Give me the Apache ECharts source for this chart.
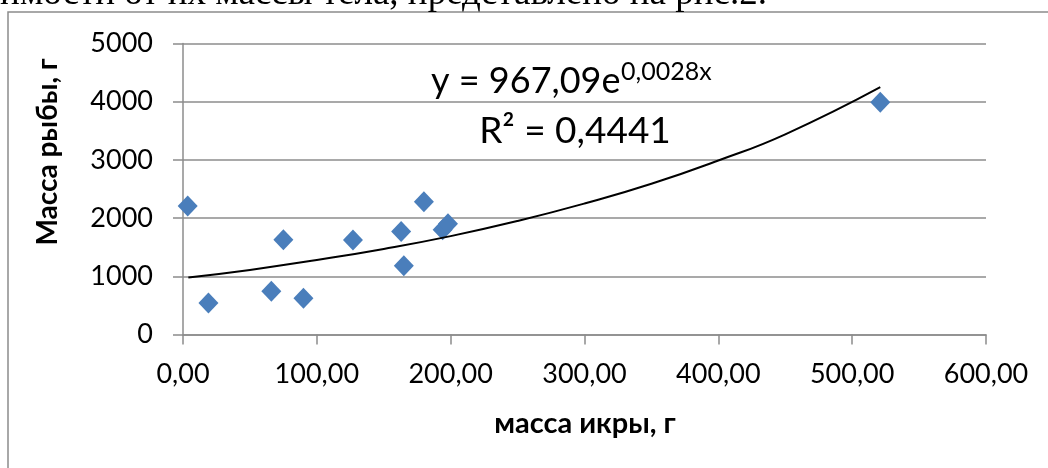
<!DOCTYPE html>
<html>
<head>
<meta charset="utf-8">
<script src="https://cdn.jsdelivr.net/npm/echarts@6/dist/echarts.min.js"></script>
<style>
  html, body { margin: 0; padding: 0; background: #fff; }
  #chart { width: 1048px; height: 468px; }
</style>
</head>
<body>
<div id="chart"></div>
<script>
/* масса икры vs масса рыбы, экспоненциальный тренд */

// масса икры, г
const roeMass = [3.5, 19, 66, 75, 90, 127, 163, 165, 180, 194, 198, 521];
// масса рыбы, г
const fishMass = [2210, 540, 745, 1630, 625, 1625, 1770, 1180, 2280, 1800, 1905, 3990];

// линия тренда
const trendX = [4, 50, 100, 150, 200, 250, 300, 350, 400, 450, 521];
const trendY = [980, 1110, 1280, 1470, 1690, 1950, 2250, 2590, 2990, 3440, 4250];

const yTicks = [0, 1000, 2000, 3000, 4000, 5000];
const xTicks = [0, 100, 200, 300, 400, 500, 600];

const labelFont = "Lato, 'Open Sans', sans-serif";
const gridGray = '#8c8c8c';

const chart = echarts.init(document.getElementById('chart'));

chart.setOption({
    animation: false,
    backgroundColor: '#fff',
    grid: { left: 183, right: 62, top: 43.5, bottom: 133.5 },
    xAxis: {
        type: 'value',
        min: xTicks[0], max: xTicks[xTicks.length - 1], interval: 100,
        axisLine: { show: true, onZero: false, lineStyle: { color: gridGray, width: 1.5 } },
        axisTick: { show: true, length: 10, lineStyle: { color: gridGray, width: 1.5 } },
        splitLine: { show: false },
        axisLabel: {
            margin: 26,
            fontFamily: labelFont, fontSize: 27, color: '#000',
            formatter: v => v.toFixed(2).replace('.', ','),
        },
    },
    yAxis: {
        type: 'value',
        min: yTicks[0], max: yTicks[yTicks.length - 1], interval: 1000,
        axisLine: { show: true, lineStyle: { color: gridGray, width: 1.5 } },
        axisTick: { show: true, length: 10, lineStyle: { color: gridGray, width: 1.5 } },
        splitLine: { show: true, lineStyle: { color: gridGray, width: 1.5 } },
        axisLabel: {
            margin: 30,
            fontFamily: labelFont, fontSize: 27, color: '#000',
            formatter: v => String(v),
        },
    },
    series: [
        {
            type: 'scatter',
            data: roeMass.map((x, i) => [x, fishMass[i]]),
            symbol: 'diamond',
            symbolSize: [20, 21],
            itemStyle: { color: '#4a7ebb', opacity: 1 },
            z: 2,
        },
        {
            type: 'line',
            data: trendX.map((x, i) => [x, trendY[i]]),
            smooth: true,
            showSymbol: false,
            lineStyle: { color: '#000', width: 2 },
            z: 3,
        },
    ],
    graphic: [
        {
            type: 'rect',
            shape: { x: 8, y: 12, width: 1200, height: 600 },
            style: { fill: 'none', stroke: '#8c8c8c', lineWidth: 1.5 },
            silent: true,
        },
        {
            type: 'text',
            x: 767, y: -6,
            style: {
                text: 'зависимости от их массы тела, представлено на рис.2.',
                fontFamily: "'Liberation Serif', 'DejaVu Serif', serif",
                fontSize: 37, fill: '#000',
                align: 'right', verticalAlign: 'middle',
            },
        },
        {
            type: 'text',
            x: 431, y: 81,
            style: {
                text: 'y = 967,09e',
                fontFamily: labelFont, fontSize: 36, fill: '#000',
                align: 'left', verticalAlign: 'middle',
            },
        },
        {
            type: 'text',
            x: 621, y: 72,
            style: {
                text: '0,0028x',
                fontFamily: labelFont, fontSize: 25, fill: '#000',
                align: 'left', verticalAlign: 'middle',
            },
        },
        {
            type: 'text',
            x: 575, y: 131,
            style: {
                text: 'R² = 0,4441',
                fontFamily: labelFont, fontSize: 37, fill: '#000',
                align: 'center', verticalAlign: 'middle',
            },
        },
        {
            type: 'text',
            x: 585, y: 424,
            style: {
                text: 'масса икры, г',
                fontFamily: labelFont, fontSize: 29, fontWeight: 'bold', fill: '#000',
                align: 'center', verticalAlign: 'middle',
            },
        },
        {
            type: 'text',
            x: 48, y: 152,
            rotation: Math.PI / 2,
            style: {
                text: 'Масса рыбы, г',
                fontFamily: labelFont, fontSize: 28, fontWeight: 'bold', fill: '#000',
                align: 'center', verticalAlign: 'middle',
            },
        },
    ],
});
</script>
</body>
</html>
